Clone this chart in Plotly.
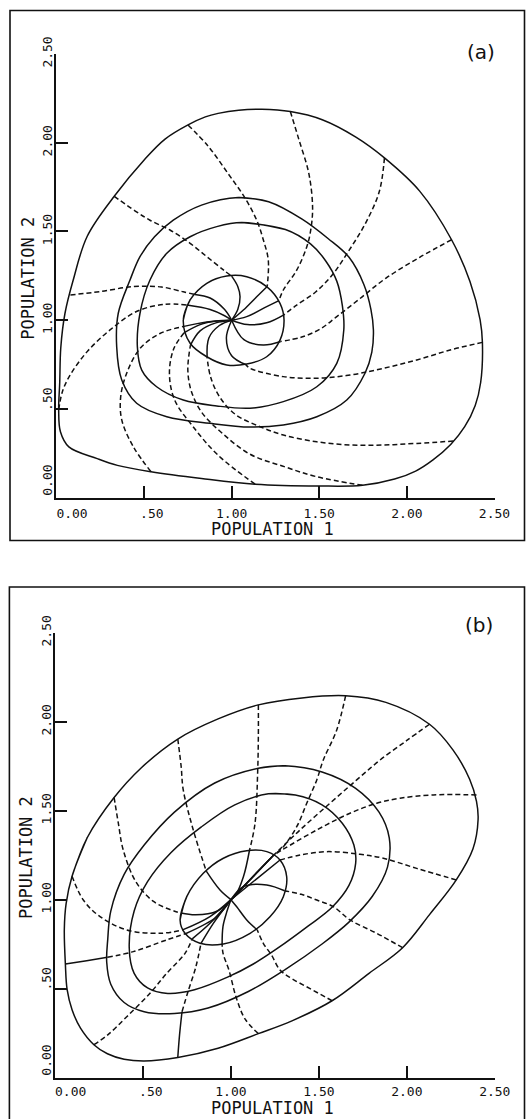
import plotly.graph_objects as go

# ---------------- axis ticks ----------------
tick_vals = [0.0, 0.5, 1.0, 1.5, 2.0, 2.5]
tick_text = ["0.00", ".50", "1.00", "1.50", "2.00", "2.50"]
tick_shift = [4, 2, 0, 0, 0, 0]   # leading blanks used by the original plotter

# ---------------- panel (a) ----------------
a_outer = [(0.071,0.286),(0.023,0.371),(0.013,0.495),(0.019,0.649),(0.025,0.845),(0.049,1.039),
           (0.096,1.226),(0.176,1.473),(0.330,1.698),(0.502,1.904),(0.620,2.020),(0.751,2.100),
           (0.850,2.145),(0.923,2.165),(1.040,2.183),(1.172,2.188),(1.335,2.175),(1.517,2.129),
           (1.709,2.031),(1.872,1.914),(2.073,1.727),(2.255,1.453),(2.360,1.218),(2.418,1.002),
           (2.431,0.875),(2.421,0.649),(2.390,0.520),(2.330,0.400),(2.250,0.300),(2.149,0.213),
           (2.050,0.150),(1.930,0.105),(1.747,0.070),(1.498,0.066),(1.134,0.076),(0.828,0.108),
           (0.540,0.146),(0.348,0.182),(0.233,0.220),(0.071,0.286)]
a_loop2 = [(1.038,1.691),(1.211,1.667),(1.402,1.569),(1.550,1.460),(1.670,1.354),(1.755,1.200),
           (1.795,1.060),(1.809,0.945),(1.800,0.820),(1.761,0.701),(1.657,0.550),(1.486,0.456),
           (1.295,0.410),(1.105,0.398),(0.877,0.419),(0.630,0.456),(0.458,0.532),(0.373,0.663),
           (0.344,0.851),(0.353,1.039),(0.420,1.226),(0.477,1.358),(0.560,1.470),(0.667,1.563),
           (0.828,1.648),(1.038,1.691)]
a_loop3 = [(1.057,1.550),(1.307,1.511),(1.450,1.430),(1.536,1.335),(1.600,1.220),(1.632,1.080),
           (1.640,0.945),(1.600,0.757),(1.486,0.625),(1.295,0.541),(1.105,0.504),(0.915,0.517),
           (0.724,0.550),(0.572,0.625),(0.487,0.719),(0.462,0.851),(0.477,1.039),(0.534,1.226),
           (0.630,1.377),(0.763,1.470),(0.915,1.527),(1.057,1.550)]
a_loop1 = [(0.724,1.001),(0.763,1.114),(0.858,1.208),(0.972,1.249),(1.086,1.245),(1.200,1.189),
           (1.276,1.095),(1.299,1.001),(1.276,0.888),(1.200,0.794),(1.086,0.753),(0.972,0.748),
           (0.858,0.794),(0.763,0.870),(0.724,1.001)]

a_tr1 = [(0.330,1.698),(0.450,1.615),(0.534,1.563),(0.648,1.508),(0.763,1.433),(0.858,1.358),(0.953,1.283),(1.000,1.248)]
a_tr1_core = [(1.000,1.248),(1.035,1.190),(1.048,1.132),(1.035,1.060),(1.0,1.0)]
a_tr2 = [(0.751,2.100),(0.866,1.980),(0.981,1.824),(1.077,1.687),(1.143,1.563),(1.181,1.452),(1.209,1.339),(1.203,1.190)]
a_tr2_core = [(1.203,1.190),(1.143,1.132),(1.067,1.057),(1.0,1.0)]
a_tr3 = [(1.335,2.175),(1.383,2.020),(1.441,1.824),(1.462,1.628),(1.450,1.500),(1.429,1.414),(1.372,1.283),(1.295,1.170),(1.270,1.110)]
a_tr3_core = [(1.270,1.110),(1.200,1.076),(1.086,1.020),(1.0,1.0)]
a_tr4 = [(1.872,1.914),(1.843,1.726),(1.766,1.550),(1.670,1.393),(1.575,1.256),(1.479,1.159),(1.364,1.080),(1.298,1.030)]
a_tr4_core = [(1.298,1.030),(1.200,0.985),(1.090,0.975),(1.0,1.0)]
a_tr5 = [(2.255,1.453),(2.073,1.354),(1.881,1.237),(1.730,1.120),(1.600,1.020),(1.505,0.950),(1.400,0.905),(1.280,0.880)]
a_tr5_core = [(1.280,0.880),(1.180,0.860),(1.070,0.890),(1.0,1.0)]
a_tr6 = [(2.431,0.875),(2.247,0.832),(2.057,0.776),(1.866,0.729),(1.676,0.691),(1.486,0.673),(1.295,0.682),(1.105,0.729),(1.080,0.750)]
a_tr6_core = [(1.080,0.750),(1.000,0.800),(0.970,0.900),(1.0,1.0)]
a_tr7 = [(2.265,0.319),(2.057,0.306),(1.866,0.297),(1.676,0.297),(1.486,0.315),(1.295,0.353),(1.162,0.400),(1.020,0.470),(0.930,0.570),(0.880,0.680),(0.860,0.790)]
a_tr7_core = [(0.860,0.790),(0.870,0.900),(0.930,0.970),(1.0,1.0)]
a_tr8 = [(1.747,0.070),(1.486,0.118),(1.300,0.175),(1.105,0.245),(0.950,0.360),(0.830,0.480),(0.770,0.600),(0.750,0.720),(0.765,0.860)]
a_tr8_core = [(0.765,0.860),(0.820,0.940),(0.910,0.985),(1.0,1.0)]
a_tr9 = [(1.134,0.076),(0.923,0.239),(0.780,0.400),(0.675,0.550),(0.645,0.700),(0.670,0.840),(0.730,0.930)]
a_tr9_core = [(0.730,0.930),(0.820,0.975),(0.910,0.995),(1.0,1.0)]
a_tr10 = [(0.540,0.146),(0.439,0.287),(0.373,0.438),(0.367,0.569),(0.401,0.701),(0.477,0.840),(0.591,0.925),(0.728,0.965)]
a_tr10_core = [(0.728,0.965),(0.858,0.990),(1.0,1.0)]
a_tr11 = [(0.013,0.495),(0.035,0.600),(0.078,0.690),(0.173,0.820),(0.306,0.945),(0.460,1.050),(0.620,1.090),(0.745,1.085)]
a_tr11_core = [(0.745,1.085),(0.877,1.060),(0.960,1.025),(1.0,1.0)]
a_tr12 = [(0.080,1.142),(0.249,1.161),(0.439,1.189),(0.600,1.187),(0.724,1.160),(0.790,1.145)]
a_tr12_core = [(0.790,1.145),(0.877,1.125),(0.960,1.060),(1.0,1.0)]

# ---------------- panel (b) ----------------
b_outer = [(0.097,1.132),(0.183,1.348),(0.336,1.574),(0.488,1.739),(0.698,1.903),(0.927,2.016),
           (1.156,2.095),(1.404,2.134),(1.652,2.146),(1.881,2.109),(2.129,1.986),(2.262,1.842),
           (2.357,1.677),(2.396,1.553),(2.405,1.451),(2.376,1.286),(2.281,1.111),(2.129,0.916),
           (1.976,0.730),(1.785,0.586),(1.575,0.432),(1.347,0.319),(1.156,0.247),(0.927,0.165),
           (0.698,0.113),(0.507,0.093),(0.393,0.103),(0.298,0.134),(0.221,0.185),(0.145,0.278),
           (0.097,0.381),(0.069,0.494),(0.059,0.638),(0.053,0.833),(0.063,0.977),(0.097,1.132)]
b_loop2 = [(1.156,1.739),(1.308,1.753),(1.518,1.718),(1.709,1.626),(1.842,1.492),(1.900,1.348),
           (1.890,1.183),(1.804,1.019),(1.671,0.874),(1.518,0.751),(1.308,0.607),(1.099,0.484),
           (0.870,0.391),(0.679,0.360),(0.507,0.370),(0.393,0.422),(0.317,0.525),(0.294,0.648),
           (0.300,0.780),(0.317,0.936),(0.393,1.142),(0.507,1.307),(0.679,1.492),(0.908,1.656),
           (1.156,1.739)]
b_loop3 = [(1.213,1.595),(1.366,1.588),(1.518,1.533),(1.633,1.430),(1.699,1.307),(1.709,1.204),
           (1.671,1.080),(1.575,0.957),(1.442,0.854),(1.270,0.730),(1.130,0.640),(0.984,0.566),
           (0.793,0.494),(0.641,0.473),(0.526,0.504),(0.450,0.586),(0.422,0.730),(0.450,0.936),
           (0.526,1.101),(0.660,1.265),(0.832,1.409),(1.022,1.533),(1.213,1.595)]
b_loop1 = [(0.711,0.886),(0.749,1.017),(0.843,1.148),(0.957,1.233),(1.090,1.275),(1.204,1.270),
           (1.279,1.223),(1.317,1.129),(1.298,1.017),(1.222,0.904),(1.109,0.811),(0.957,0.751),
           (0.824,0.755),(0.739,0.811),(0.711,0.886)]

b_tr1 = [(0.097,1.132),(0.161,0.998),(0.256,0.905),(0.408,0.830),(0.597,0.811),(0.725,0.830)]
b_tr1_core = [(0.725,0.830),(0.881,0.905),(1.0,1.0)]
b_tr2 = [(0.336,1.574),(0.360,1.430),(0.388,1.279),(0.460,1.100),(0.560,0.990),(0.680,0.935),(0.716,0.925)]
b_tr2_core = [(0.716,0.925),(0.800,0.915),(0.920,0.935),(1.0,1.0)]
b_tr3 = [(0.698,1.903),(0.717,1.750),(0.729,1.617),(0.786,1.392),(0.860,1.160)]
b_tr3_core = [(0.860,1.160),(0.938,1.054),(1.0,1.0)]
b_tr4 = [(1.156,2.095),(1.156,1.924),(1.152,1.718),(1.137,1.429),(1.105,1.275)]
b_tr4_core = [(1.105,1.275),(1.071,1.129),(1.023,1.020),(1.0,1.0)]
b_tr5 = [(1.652,2.146),(1.600,1.950),(1.525,1.785),(1.488,1.673),(1.431,1.542),(1.374,1.410),(1.298,1.298),(1.245,1.252)]
b_tr5_core = [(1.245,1.252),(1.120,1.125),(1.0,1.0)]
b_tr6 = [(2.129,1.986),(2.000,1.895),(1.848,1.785),(1.715,1.673),(1.563,1.542),(1.393,1.392),(1.245,1.252)]
b_tr6_core = [(1.245,1.252),(1.0,1.0)]
b_tr7 = [(2.396,1.589),(2.151,1.589),(1.961,1.570),(1.829,1.542),(1.677,1.486),(1.488,1.392),(1.300,1.285),(1.245,1.252)]
b_tr7_core = [(1.245,1.252),(1.0,1.0)]
b_tr8 = [(2.281,1.111),(2.056,1.176),(1.866,1.233),(1.734,1.255),(1.545,1.270),(1.393,1.251),(1.279,1.223)]
b_tr8_core = [(1.279,1.223),(1.150,1.120),(1.0,1.0)]
b_tr9 = [(1.976,0.730),(1.829,0.811),(1.677,0.886),(1.582,0.961),(1.488,0.998),(1.400,1.030),(1.305,1.050)]
b_tr9_core = [(1.305,1.050),(1.204,1.083),(1.071,1.073),(1.0,1.0)]
b_tr10 = [(1.575,0.432),(1.450,0.500),(1.347,0.556),(1.279,0.605),(1.230,0.690),(1.184,0.755),(1.150,0.830)]
b_tr10_core = [(1.150,0.830),(1.090,0.886),(1.033,0.960),(1.0,1.0)]
b_tr11 = [(1.156,0.247),(1.080,0.330),(1.030,0.450),(0.990,0.600),(0.955,0.700),(0.950,0.750)]
b_tr11_core = [(0.950,0.750),(0.955,0.850),(0.976,0.930),(1.0,1.0)]
b_tr12_lead = [(0.698,0.113),(0.708,0.240),(0.722,0.370)]
b_tr12 = [(0.722,0.370),(0.755,0.480),(0.800,0.620),(0.830,0.755)]
b_tr12_core = [(0.830,0.755),(0.900,0.867),(0.957,0.945),(1.0,1.0)]
b_tr13 = [(0.221,0.185),(0.300,0.240),(0.408,0.342),(0.540,0.474),(0.635,0.586),(0.740,0.700),(0.780,0.780)]
b_tr13_core = [(0.780,0.780),(0.881,0.867),(1.0,1.0)]
b_tr14_lead = [(0.059,0.638),(0.180,0.657),(0.298,0.676)]
b_tr14 = [(0.298,0.676),(0.445,0.708),(0.635,0.774),(0.745,0.810)]
b_tr14_core = [(0.745,0.810),(0.919,0.904),(1.0,1.0)]

# (solid lead-in, dashed part, solid core)
panels = {
    "a": dict(loops=[a_outer, a_loop2, a_loop3, a_loop1],
              trajectories=[(None, a_tr1, a_tr1_core), (None, a_tr2, a_tr2_core), (None, a_tr3, a_tr3_core),
                            (None, a_tr4, a_tr4_core), (None, a_tr5, a_tr5_core), (None, a_tr6, a_tr6_core),
                            (None, a_tr7, a_tr7_core), (None, a_tr8, a_tr8_core), (None, a_tr9, a_tr9_core),
                            (None, a_tr10, a_tr10_core), (None, a_tr11, a_tr11_core), (None, a_tr12, a_tr12_core)]),
    "b": dict(loops=[b_outer, b_loop2, b_loop3, b_loop1],
              trajectories=[(None, b_tr1, b_tr1_core), (None, b_tr2, b_tr2_core), (None, b_tr3, b_tr3_core),
                            (None, b_tr4, b_tr4_core), (None, b_tr5, b_tr5_core), (None, b_tr6, b_tr6_core),
                            (None, b_tr7, b_tr7_core), (None, b_tr8, b_tr8_core), (None, b_tr9, b_tr9_core),
                            (None, b_tr10, b_tr10_core), (None, b_tr11, b_tr11_core),
                            (b_tr12_lead, b_tr12, b_tr12_core),
                            (None, b_tr13, b_tr13_core), (b_tr14_lead, b_tr14, b_tr14_core)]),
}

# ---------------- figure ----------------
W, H = 526, 1119
INK = "#111111"
LW = 1.5
DASH = "5px,3px"

fig = go.Figure()


def add_line(pts, xa, ya, dash="solid", closed=False, shape="spline"):
    seq = list(pts)
    if closed:
        seq = seq + seq[1:2]
    fig.add_trace(go.Scatter(
        x=[p[0] for p in seq], y=[p[1] for p in seq], mode="lines",
        xaxis=xa, yaxis=ya, hoverinfo="skip", showlegend=False,
        line=dict(color=INK, width=LW, dash=dash, shape=shape, smoothing=1.0)))


for key, xa, ya in (("a", "x", "y"), ("b", "x2", "y2")):
    p = panels[key]
    for i, loop in enumerate(p["loops"]):
        add_line(loop, xa, ya, closed=(i != 0 or key == "b"))
    for lead, mid, core in p["trajectories"]:
        if lead is not None:
            add_line(lead, xa, ya)
        add_line(mid, xa, ya, dash=DASH)
        add_line(core, xa, ya)

NB = "\u00a0"
shown_ticks = [NB * n + t for n, t in zip(tick_shift, tick_text)]

def px_x(v):
    return v / W

def px_y(v):
    return 1 - v / H

axis_common = dict(range=[0, 2.5], tickmode="array", tickvals=tick_vals, ticktext=shown_ticks,
                   ticks="inside", ticklen=12, tickwidth=LW, tickcolor=INK,
                   showline=True, linewidth=LW, linecolor=INK, mirror=False,
                   showgrid=False, zeroline=False, fixedrange=True, automargin=False,
                   tickfont=dict(family="DejaVu Sans Mono", size=13, color=INK))

fig.update_layout(
    width=W, height=H, autosize=False,
    margin=dict(l=0, r=0, t=0, b=0, pad=0, autoexpand=False),
    paper_bgcolor="white", plot_bgcolor="white", showlegend=False,
    xaxis=dict(axis_common, domain=[px_x(56.4), px_x(494.5)], anchor="y", ticklabelstandoff=3),
    yaxis=dict(axis_common, domain=[px_y(497.7), px_y(53.9)], anchor="x", tickangle=-90, ticklabelstandoff=-3),
    xaxis2=dict(axis_common, domain=[px_x(55.0), px_x(494.8)], anchor="y2", ticklabelstandoff=1),
    yaxis2=dict(axis_common, domain=[px_y(1077.6), px_y(632.8)], anchor="x2", tickangle=-90, ticklabelstandoff=-3),
)

# frames around each panel
fig.add_shape(type="rect", xref="paper", yref="paper",
              x0=px_x(10), x1=px_x(524.5), y0=px_y(540.5), y1=px_y(10.5),
              line=dict(color=INK, width=1.6))
fig.add_shape(type="rect", xref="paper", yref="paper",
              x0=px_x(9.4), x1=px_x(524.5), y0=px_y(1130), y1=px_y(587),
              line=dict(color=INK, width=1.6))

title_font = dict(family="DejaVu Sans Mono", size=17, color=INK)
label_font = dict(family="DejaVu Sans", size=20, color=INK)
annos = [
    ("POPULATION 1", 272.6, 529.0, 0, title_font),
    ("POPULATION 2", 27.7, 278.0, -90, title_font),
    ("POPULATION 1", 272.2, 1108.0, 0, title_font),
    ("POPULATION 2", 26.0, 858.0, -90, title_font),
    ("(a)", 480.8, 51.7, 0, label_font),
    ("(b)", 478.8, 624.6, 0, label_font),
]
for text, x, y, ang, font in annos:
    fig.add_annotation(text=text, xref="paper", yref="paper", x=px_x(x), y=px_y(y),
                       xanchor="center", yanchor="middle", showarrow=False,
                       textangle=ang, font=font)

fig.write_html("out.html")
